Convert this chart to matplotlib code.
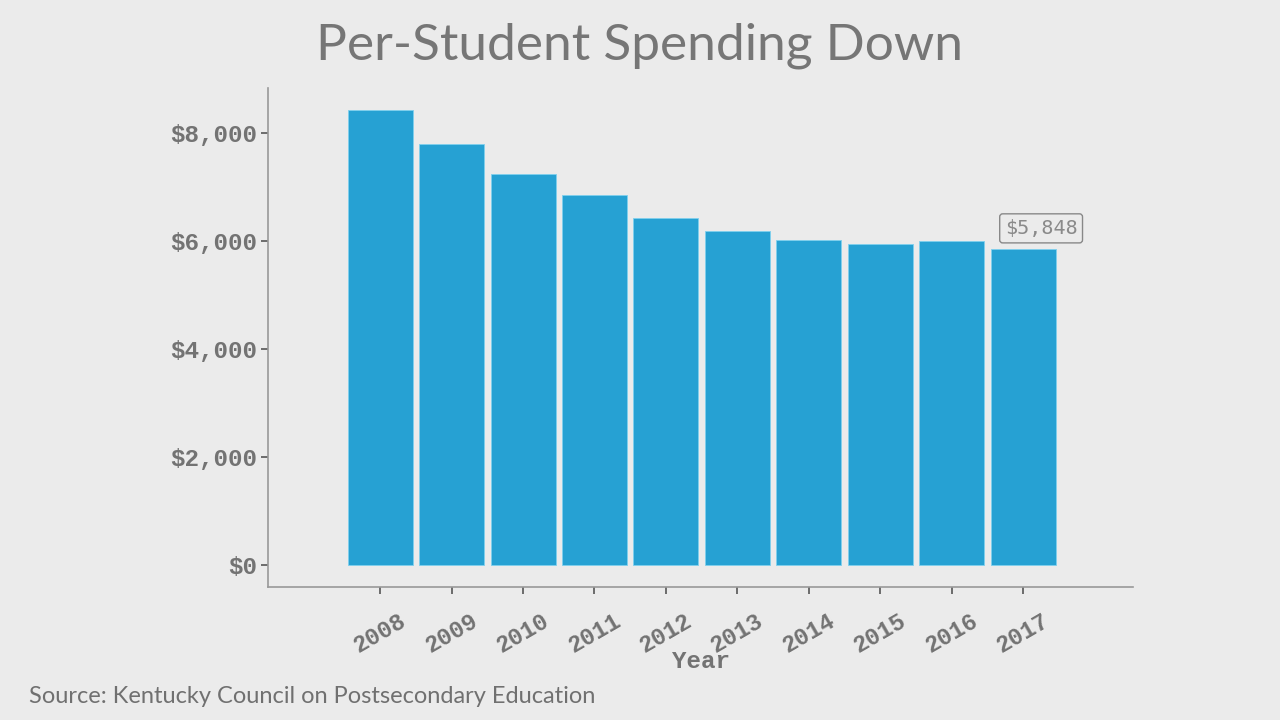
import matplotlib
matplotlib.use("Agg")
import matplotlib.pyplot as plt
from matplotlib.ticker import FuncFormatter

years = ["2008", "2009", "2010", "2011", "2012", "2013", "2014", "2015", "2016", "2017"]
spending = [8426, 7796, 7241, 6852, 6426, 6185, 6019, 5944, 6000, 5848]
yticks = [0, 2000, 4000, 6000, 8000]

bg = "#ebebeb"
grey = "#737373"
bar_color = "#26a1d3"

fig = plt.figure(figsize=(12.8, 7.2), dpi=100, facecolor=bg)
ax = fig.add_axes([0.2094, 0.1847, 0.6758, 0.6931], facecolor=bg)

x = list(range(len(years)))
ax.bar(x, spending, width=0.91, color=bar_color, edgecolor="#7fd0ee", linewidth=0.6)

ax.set_xlim(-1.57, 10.54)
ax.set_ylim(-407, 8833)
ax.set_yticks(yticks)
ax.yaxis.set_major_formatter(FuncFormatter(lambda v, p: "${:,.0f}".format(v)))
ax.set_xticks(x)
ax.set_xticklabels(years, rotation=30, ha="center", va="center", rotation_mode="anchor")

mono = "Liberation Mono"
for lab in ax.get_yticklabels():
    lab.set_fontfamily(mono); lab.set_fontweight("bold"); lab.set_fontsize(17.5); lab.set_color(grey)
for lab in ax.get_xticklabels():
    lab.set_fontfamily(mono); lab.set_fontweight("bold"); lab.set_fontsize(17); lab.set_color(grey)

for s in ["top", "right"]:
    ax.spines[s].set_visible(False)
for s in ["left", "bottom"]:
    ax.spines[s].set_color("#999999")
    ax.spines[s].set_linewidth(1.2)
ax.tick_params(axis="both", colors="#555555", length=5, width=1.2, labelcolor=grey)
ax.tick_params(axis="x", pad=28)
ax.tick_params(axis="y", pad=3)

ax.set_xlabel("Year", fontfamily=mono, fontweight="bold", fontsize=17.5, color=grey)
ax.xaxis.set_label_coords(0.5, -0.150)
ax.xaxis.label.set_va("center")

last = len(years) - 1
ax.annotate("${:,}".format(spending[last]), xy=(last, spending[last]), xytext=(13, 15),
            textcoords="offset points", ha="center", va="center",
            fontfamily="DejaVu Sans Mono", fontsize=14.5, color="#8a8a8a",
            bbox=dict(boxstyle="round,pad=0.25,rounding_size=0.15", fc=bg, ec="#888888", lw=1))

fig.text(0.5, 0.937, "Per-Student Spending Down", ha="center", va="center",
         fontfamily="Lato", fontsize=37, color="#767676")
fig.text(0.023, 0.033, "Source: Kentucky Council on Postsecondary Education", ha="left", va="center",
         fontfamily="Lato", fontsize=17, color="#707070")

fig.savefig("out.png", dpi=100, facecolor=bg)
